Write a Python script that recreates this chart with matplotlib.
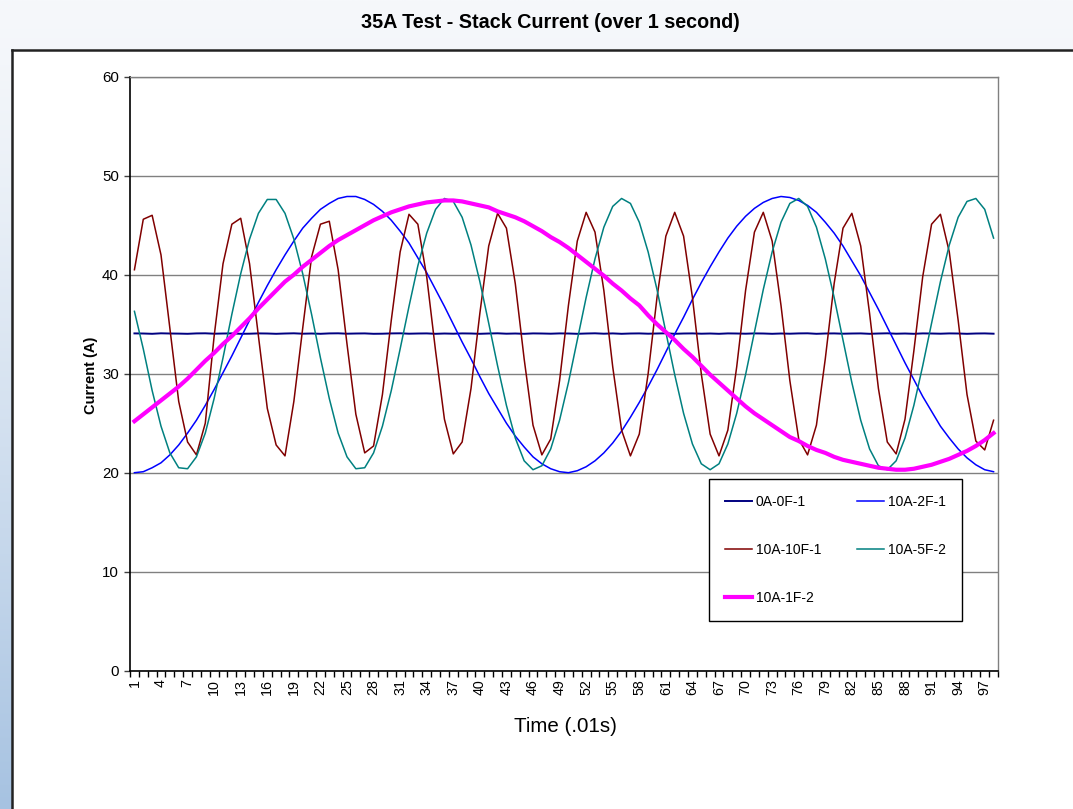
import numpy as np
import matplotlib
matplotlib.use("Agg")
import matplotlib.pyplot as plt
from matplotlib.patches import Rectangle
from matplotlib.lines import Line2D

plt.rcParams['font.family'] = ['Liberation Sans', 'DejaVu Sans']

# ---------------- data ----------------
time_idx = list(range(1, 99))
xtick_pos = [1, 4, 7, 10, 13, 16, 19, 22, 25, 28, 31, 34, 37, 40, 43, 46, 49,
             52, 55, 58, 61, 64, 67, 70, 73, 76, 79, 82, 85, 88, 91, 94, 97]
xtick_labels = [str(v) for v in xtick_pos]
ytick_vals = [0, 10, 20, 30, 40, 50, 60]

s_0A_0F_1 = [34.07, 34.06, 34.03, 34.08, 34.06, 34.05, 34.03, 34.07, 34.08, 34.04,
             34.06, 34.07, 34.03, 34.04, 34.07, 34.06, 34.03, 34.06, 34.08, 34.04,
             34.06, 34.03, 34.07, 34.08, 34.04, 34.06, 34.07, 34.03, 34.04, 34.07,
             34.08, 34.04, 34.06, 34.07, 34.03, 34.06, 34.04, 34.07, 34.06, 34.03,
             34.06, 34.08, 34.04, 34.06, 34.03, 34.07, 34.06, 34.04, 34.07, 34.06,
             34.03, 34.06, 34.08, 34.04, 34.07, 34.03, 34.06, 34.07, 34.04, 34.06,
             34.08, 34.03, 34.06, 34.07, 34.04, 34.06, 34.03, 34.07, 34.06, 34.04,
             34.07, 34.06, 34.03, 34.06, 34.04, 34.07, 34.08, 34.03, 34.06, 34.07,
             34.04, 34.06, 34.07, 34.03, 34.06, 34.08, 34.04, 34.06, 34.03, 34.07,
             34.06, 34.04, 34.07, 34.06, 34.03, 34.06, 34.07, 34.04]

s_10A_2F_1 = [20.0, 20.1, 20.5, 21.0, 21.8, 22.8, 24.0, 25.3, 26.8, 28.4,
              30.1, 31.8, 33.6, 35.4, 37.2, 38.9, 40.5, 42.0, 43.4, 44.7,
              45.7, 46.6, 47.2, 47.7, 47.9, 47.9, 47.6, 47.1, 46.4, 45.5,
              44.4, 43.2, 41.7, 40.2, 38.5, 36.8, 35.0, 33.2, 31.5, 29.7,
              28.0, 26.5, 25.0, 23.7, 22.6, 21.6, 20.9, 20.4, 20.1, 20.0,
              20.2, 20.6, 21.2, 22.0, 23.0, 24.2, 25.6, 27.1, 28.7, 30.4,
              32.2, 34.0, 35.7, 37.5, 39.2, 40.8, 42.3, 43.7, 44.9, 45.9,
              46.7, 47.3, 47.7, 47.9, 47.8, 47.5, 47.0, 46.3, 45.3, 44.2,
              42.9, 41.4, 39.9, 38.2, 36.5, 34.7, 32.9, 31.1, 29.4, 27.7,
              26.2, 24.7, 23.5, 22.4, 21.5, 20.8, 20.3, 20.1]

s_10A_10F_1 = [40.5, 45.6, 46.0, 42.0, 34.6, 27.2, 23.1, 21.8, 25.0, 33.8,
               41.1, 45.1, 45.7, 41.1, 33.8, 26.5, 22.8, 21.7, 27.2, 34.6,
               41.8, 45.1, 45.4, 40.5, 33.0, 25.9, 22.0, 22.7, 27.9, 35.4,
               42.3, 46.1, 45.1, 39.8, 32.3, 25.4, 21.9, 23.1, 28.5, 36.1,
               42.9, 46.2, 44.7, 39.1, 31.5, 24.8, 21.8, 23.4, 29.3, 36.9,
               43.4, 46.3, 44.3, 38.4, 30.7, 24.3, 21.7, 23.9, 30.0, 37.7,
               43.9, 46.3, 43.9, 37.7, 30.0, 23.9, 21.7, 24.3, 30.7, 38.4,
               44.3, 46.3, 43.4, 36.9, 29.3, 23.4, 21.8, 24.8, 31.5, 39.1,
               44.7, 46.2, 42.9, 36.1, 28.5, 23.1, 21.9, 25.4, 32.3, 39.8,
               45.1, 46.1, 42.3, 35.4, 27.9, 23.2, 22.3, 25.3]

s_10A_5F_2 = [36.3, 32.5, 28.3, 24.7, 22.0, 20.5, 20.4, 21.6, 24.0, 27.5,
              31.6, 36.0, 40.1, 43.6, 46.2, 47.6, 47.6, 46.2, 43.6, 40.1,
              36.0, 31.6, 27.5, 24.0, 21.6, 20.4, 20.5, 22.0, 24.7, 28.3,
              32.5, 36.8, 40.9, 44.2, 46.6, 47.7, 47.4, 45.8, 43.0, 39.3,
              35.1, 30.8, 26.8, 23.5, 21.2, 20.3, 20.7, 22.4, 25.3, 29.1,
              33.4, 37.7, 41.6, 44.8, 46.9, 47.7, 47.2, 45.3, 42.3, 38.5,
              34.2, 29.9, 26.0, 22.9, 20.9, 20.3, 20.9, 22.9, 26.0, 29.9,
              34.2, 38.5, 42.3, 45.3, 47.2, 47.7, 46.9, 44.8, 41.6, 37.7,
              33.4, 29.1, 25.3, 22.4, 20.7, 20.3, 21.2, 23.5, 26.8, 30.8,
              35.1, 39.3, 43.0, 45.8, 47.4, 47.7, 46.6, 43.7]

s_10A_1F_2 = [25.2, 25.9, 26.6, 27.3, 28.0, 28.7, 29.5, 30.4, 31.3, 32.1,
              33.0, 33.8, 34.7, 35.6, 36.6, 37.5, 38.4, 39.3, 40.0, 40.8,
              41.5, 42.2, 42.9, 43.5, 44.0, 44.5, 45.0, 45.5, 45.9, 46.3,
              46.6, 46.9, 47.1, 47.3, 47.4, 47.5, 47.5, 47.4, 47.2, 47.0,
              46.8, 46.4, 46.1, 45.8, 45.4, 44.9, 44.4, 43.8, 43.3, 42.7,
              42.0, 41.3, 40.6, 39.9, 39.1, 38.4, 37.6, 36.9, 35.9, 35.0,
              34.2, 33.4, 32.5, 31.7, 30.8, 29.9, 29.1, 28.3, 27.5, 26.7,
              26.0, 25.4, 24.8, 24.2, 23.6, 23.2, 22.7, 22.3, 22.0, 21.6,
              21.3, 21.1, 20.9, 20.7, 20.5, 20.4, 20.3, 20.3, 20.4, 20.6,
              20.8, 21.1, 21.4, 21.8, 22.2, 22.7, 23.3, 24.0]

series_names = ["0A-0F-1", "10A-2F-1", "10A-10F-1", "10A-5F-2", "10A-1F-2"]
series_values = [s_0A_0F_1, s_10A_2F_1, s_10A_10F_1, s_10A_5F_2, s_10A_1F_2]
series_colors = ["#000080", "#0000FF", "#800000", "#008080", "#FF00FF"]
series_widths = [1.4, 1.1, 1.1, 1.1, 3.0]

title = "35A Test - Stack Current (over 1 second)"
x_label = "Time (.01s)"
y_label = "Current (A)"

# ---------------- figure ----------------
W, H = 1073, 809
fig = plt.figure(figsize=(W / 100, H / 100), dpi=100)

# background gradient
bg = fig.add_axes([0, 0, 1, 1])
bg.set_axis_off()
c_top = np.array([0xf6, 0xf8, 0xfb]) / 255.0
c_bot = np.array([0xa6, 0xc2, 0xe1]) / 255.0
t = np.linspace(0, 1, 400).reshape(-1, 1, 1) ** 1.3
grad = c_top * (1 - t) + c_bot * t
grad = np.repeat(grad, 4, axis=1)
bg.imshow(grad, aspect='auto', extent=[0, 1, 0, 1], origin='upper', zorder=0)
bg.set_xlim(0, 1)
bg.set_ylim(0, 1)

# white panel with dark border (top & left)
px0, py_top = 12 / W, 1 - 50 / H
bg.add_patch(Rectangle((px0, 0), 1 - px0, py_top, facecolor='white',
                       edgecolor='none', zorder=1))
bg.add_line(Line2D([px0, 1], [py_top, py_top], color='#222222', lw=1.8, zorder=2))
bg.add_line(Line2D([px0, px0], [0, py_top], color='#222222', lw=1.8, zorder=2))

# main axes
left, right, top, bottom = 130, 998, 76.7, 670.7
ax = fig.add_axes([left / W, 1 - bottom / H, (right - left) / W, (bottom - top) / H])
ax.set_zorder(5)
ax.set_facecolor('white')

for name, vals, col, lw in zip(series_names, series_values, series_colors, series_widths):
    ax.plot(time_idx, vals, color=col, lw=lw, label=name, solid_joinstyle='round')

ax.set_xlim(0.5, 98.5)
ax.set_ylim(0, 60)
ax.set_yticks(ytick_vals)
ax.set_yticklabels([str(v) for v in ytick_vals])
ax.yaxis.grid(True, color='#808080', lw=1.0)
ax.set_axisbelow(True)

ax.set_xticks(xtick_pos)
ax.set_xticklabels(xtick_labels, rotation=90)
ax.set_xticks(np.arange(0.5, 99.0, 1.0), minor=True)
ax.tick_params(axis='x', which='major', length=0, pad=6, labelsize=10.3)
ax.tick_params(axis='x', which='minor', length=4, width=1, direction='out', color='black')
ax.tick_params(axis='y', which='major', length=4, width=1, direction='out',
               pad=4, labelsize=10.8, color='#404040')

for side in ['left', 'bottom']:
    ax.spines[side].set_color('black')
    ax.spines[side].set_linewidth(1.2)
for side in ['top', 'right']:
    ax.spines[side].set_color('#808080')
    ax.spines[side].set_linewidth(1.0)

# legend (row-wise layout like the original)
handles, labels = ax.get_legend_handles_labels()
order = [0, 2, 4, 1, 3]
leg = ax.legend([handles[i] for i in order], [labels[i] for i in order],
                ncol=2, loc='upper left',
                bbox_to_anchor=(709 / W, 1 - 479 / H), bbox_transform=fig.transFigure,
                fontsize=10, frameon=True, fancybox=False, edgecolor='black',
                framealpha=1, borderpad=1.15, labelspacing=2.45, handlelength=1.95,
                handletextpad=0.25, columnspacing=2.6, borderaxespad=0)
leg.get_frame().set_linewidth(1.0)

# texts
fig.text(550 / W, 1 - 28.5 / H, title, ha='center', va='baseline',
         fontsize=14.2, fontweight='bold')
fig.text(91 / W, 1 - 375 / H, y_label, rotation=90, ha='center', va='center',
         fontsize=10.5, fontweight='bold')
fig.text(565.5 / W, 1 - 731.5 / H, x_label, ha='center', va='baseline', fontsize=14.8)

fig.savefig('out.png', dpi=100)
